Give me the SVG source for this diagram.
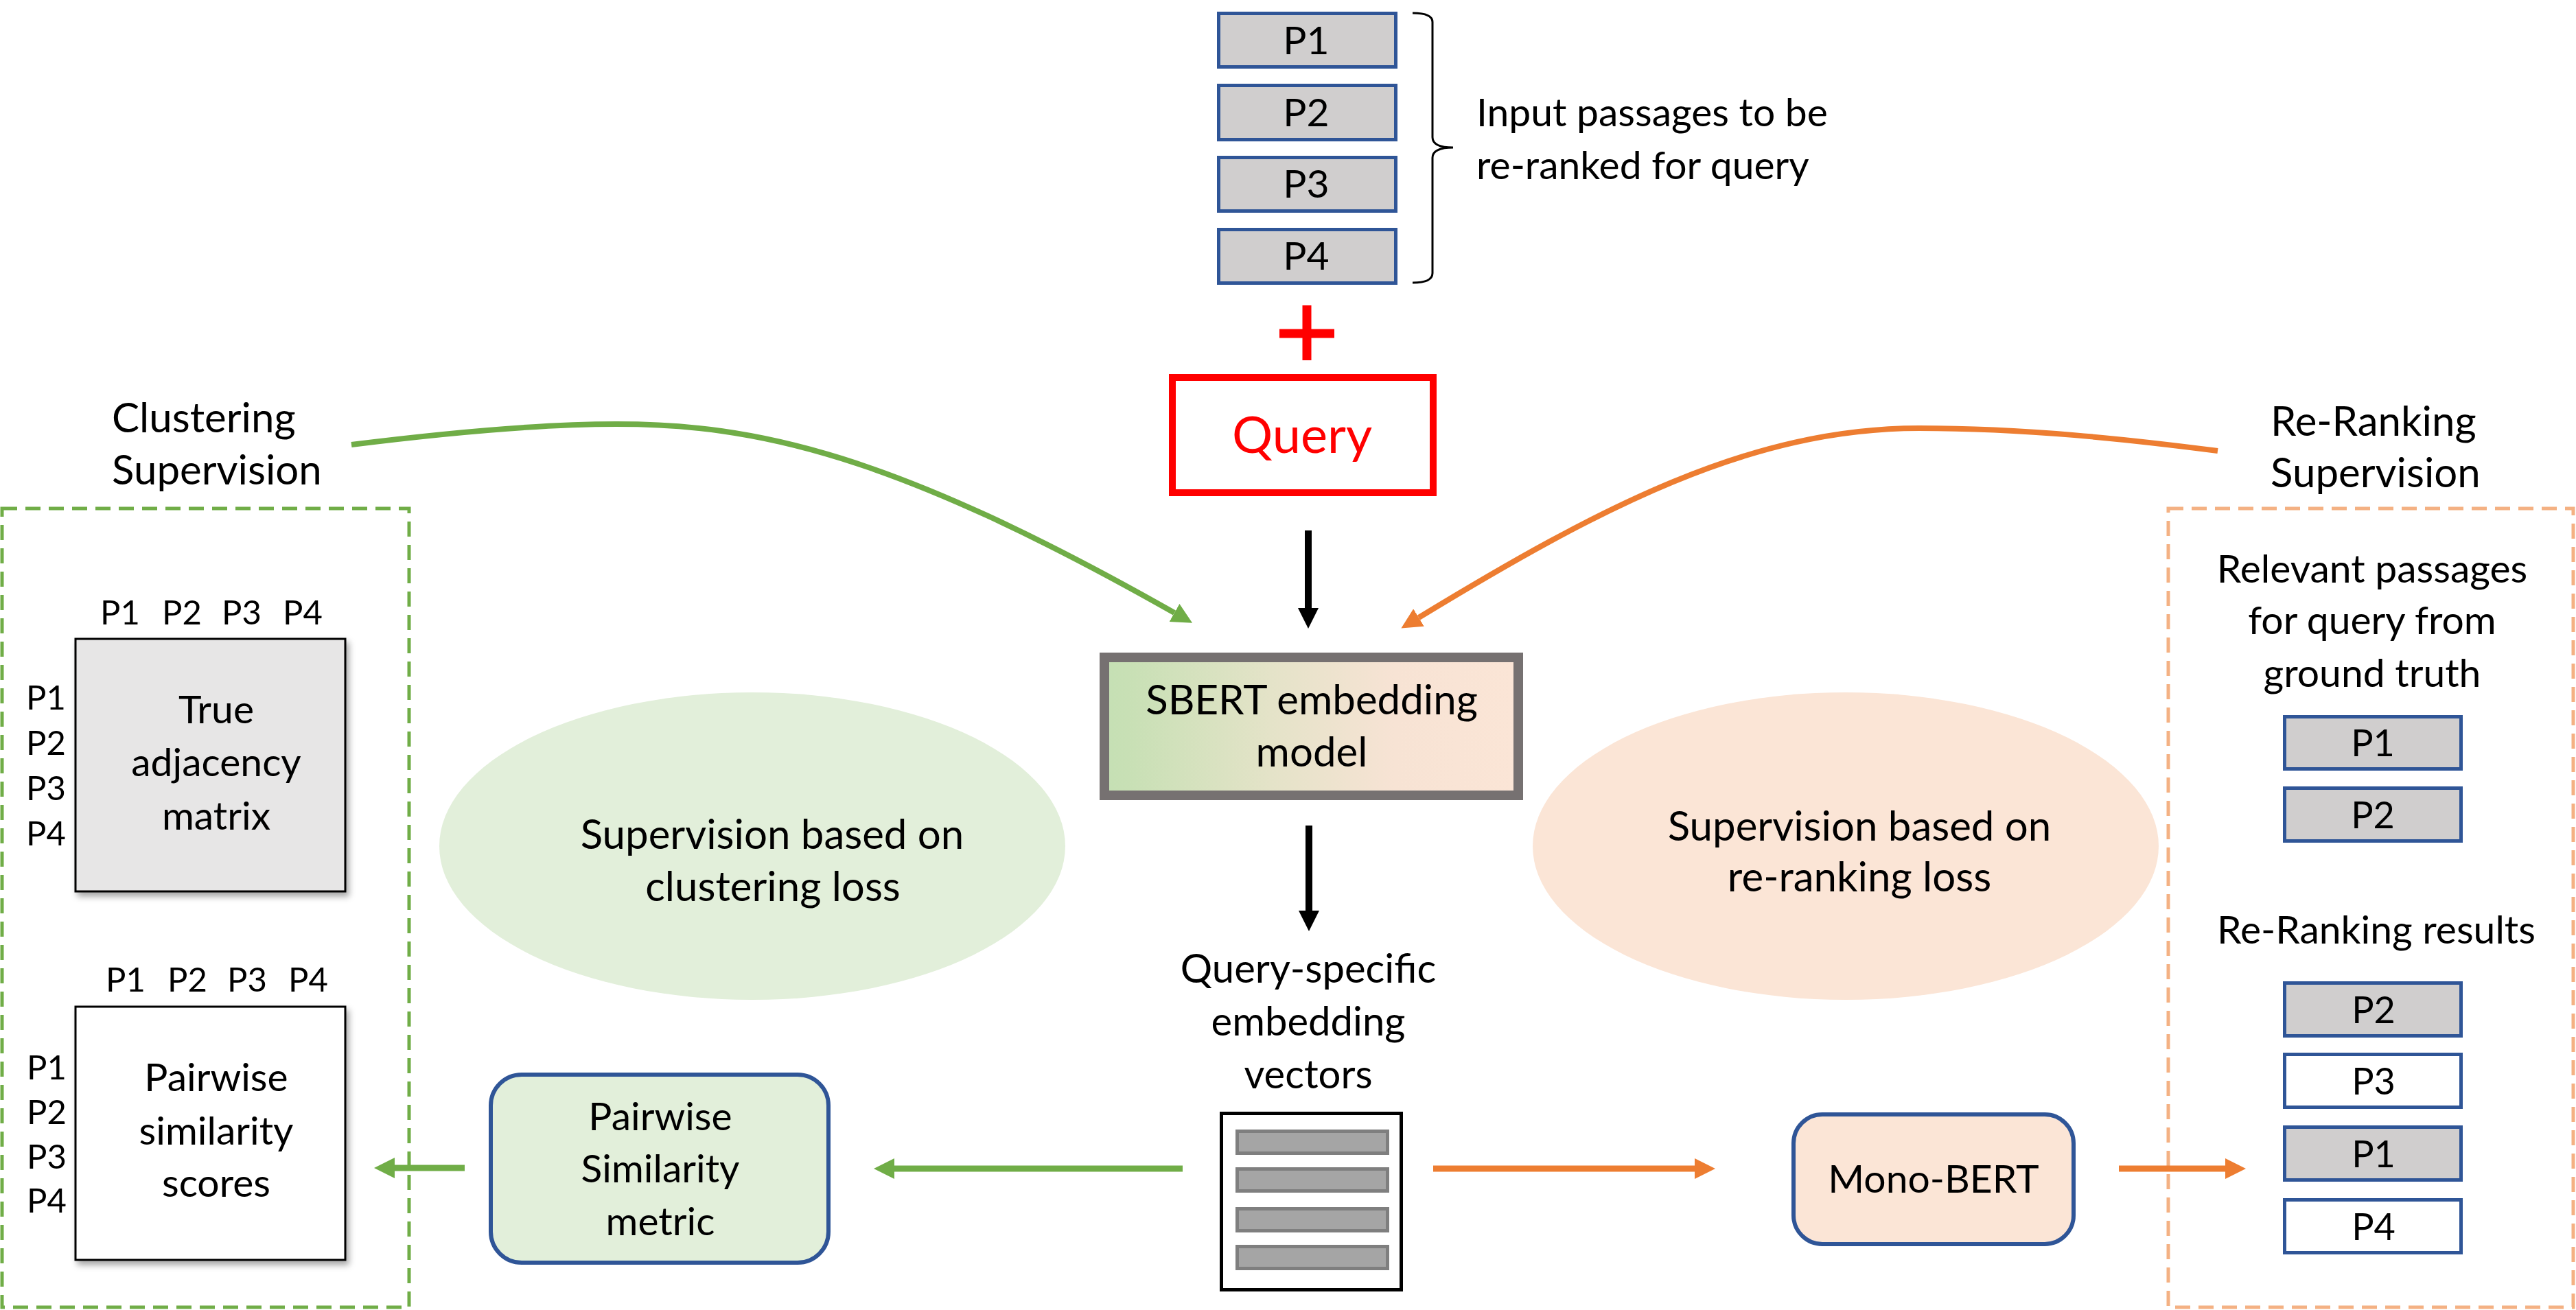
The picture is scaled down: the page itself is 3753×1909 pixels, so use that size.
<svg xmlns="http://www.w3.org/2000/svg" width="3753" height="1909" viewBox="0 0 3753 1909">
<defs>
<style>
text{font-family:Lato,"Liberation Sans",sans-serif;fill:#000}
.t{font-size:57px}
.m{text-anchor:middle}
.s{font-size:49px}
.r{font-size:54px}
.pg{fill:#D0CECE;stroke:#2F5597;stroke-width:5}
.pw{fill:#FFFFFF;stroke:#2F5597;stroke-width:5}
.g{stroke:#70AD47;stroke-width:8;fill:none}
.gs{stroke:#70AD47;stroke-width:9;fill:none}
.o{stroke:#ED7D31;stroke-width:8;fill:none}
.os{stroke:#ED7D31;stroke-width:9;fill:none}
.k{stroke:#000;stroke-width:10;fill:none}
.bar{fill:#A5A5A5;stroke:#7F7F7F;stroke-width:5}
</style>
<linearGradient id="sg" x1="0" y1="0" x2="1" y2="0">
<stop offset="0" stop-color="#C5E0B4"/>
<stop offset="0.06" stop-color="#C8E0B5"/>
<stop offset="0.4" stop-color="#E4E3C8"/>
<stop offset="0.7" stop-color="#F7E3D4"/>
<stop offset="1" stop-color="#FBE5D6"/>
</linearGradient>
<marker id="ag" markerUnits="userSpaceOnUse" markerWidth="32" markerHeight="32" refX="0" refY="15" orient="auto"><path d="M0,0 L30,15 L0,30 Z" fill="#70AD47"/></marker>
<marker id="ao" markerUnits="userSpaceOnUse" markerWidth="32" markerHeight="32" refX="0" refY="15" orient="auto"><path d="M0,0 L30,15 L0,30 Z" fill="#ED7D31"/></marker>
<marker id="ak" markerUnits="userSpaceOnUse" markerWidth="32" markerHeight="32" refX="0" refY="15" orient="auto"><path d="M0,0 L30,15 L0,30 Z" fill="#000"/></marker>
<filter id="sh" x="-10%" y="-10%" width="130%" height="130%"><feDropShadow dx="4" dy="6" stdDeviation="5" flood-color="#000" flood-opacity="0.35"/></filter>
</defs>
<rect x="0" y="0" width="3753" height="1909" fill="#FFFFFF"/>

<g id="supervision-regions">
<rect id="clustering-region" x="3" y="741" width="593" height="1164" fill="none" stroke="#70AD47" stroke-width="5" stroke-dasharray="22 12"/>
<rect id="reranking-region" x="3159" y="741" width="590" height="1164" fill="none" stroke="#F4B183" stroke-width="5" stroke-dasharray="22 12"/>
</g>

<g id="ellipse-clustering">
<ellipse cx="1096" cy="1233" rx="456" ry="224" fill="#E2EFDA"/>
<text class="m" font-size="60" x="1125" y="1237">Supervision based on</text>
<text class="m" font-size="60" x="1126" y="1313">clustering loss</text>
</g>
<g id="ellipse-reranking">
<ellipse cx="2689" cy="1233" rx="456" ry="224" fill="#FBE5D6"/>
<text class="m" font-size="60" x="2709" y="1225">Supervision based on</text>
<text class="m" font-size="60" x="2709" y="1299">re-ranking loss</text>
</g>

<g id="input-passages">
<rect class="pg" x="1775.5" y="19.5" width="258" height="78"/>
<rect class="pg" x="1775.5" y="124.5" width="258" height="79"/>
<rect class="pg" x="1775.5" y="229.5" width="258" height="78"/>
<rect class="pg" x="1775.5" y="334.5" width="258" height="78"/>
<text class="t m" x="1903" y="79">P1</text>
<text class="t m" x="1903" y="184">P2</text>
<text class="t m" x="1903" y="288">P3</text>
<text class="t m" x="1903" y="393">P4</text>
<path d="M2058,19 Q2087,19 2087,32 L2087,200 Q2087,215 2117,215 Q2087,215 2087,230 L2087,398 Q2087,412 2058,412" fill="none" stroke="#000" stroke-width="3"/>
<text class="t" x="2151" y="184">Input passages to be</text>
<text class="t" x="2151" y="261">re-ranked for query</text>
</g>

<g id="plus">
<path d="M1904,445 L1904,525 M1864,486 L1944,486" stroke="#FF0000" stroke-width="13" fill="none"/>
</g>

<g id="query">
<rect x="1708" y="550" width="380" height="168" fill="#FFFFFF" stroke="#FF0000" stroke-width="10"/>
<text class="m" font-size="74" x="1897" y="660" style="fill:#FF0000">Query</text>
</g>

<g id="sbert">
<rect x="1609" y="958" width="603" height="201" fill="url(#sg)" stroke="#767171" stroke-width="14"/>
<text class="m" font-size="60" x="1911" y="1041">SBERT embedding</text>
<text class="m" font-size="60" x="1911" y="1117">model</text>
</g>

<g id="embedding-vectors">
<text class="m" font-size="58" x="1906" y="1432">Query-specific</text>
<text class="m" font-size="58" x="1906" y="1509">embedding</text>
<text class="m" font-size="58" x="1906" y="1586">vectors</text>
<rect x="1779.5" y="1622.5" width="262" height="257" fill="#FFFFFF" stroke="#000" stroke-width="5"/>
<rect class="bar" x="1802.5" y="1648.5" width="219" height="32"/>
<rect class="bar" x="1802.5" y="1703.5" width="219" height="32"/>
<rect class="bar" x="1802.5" y="1761.5" width="219" height="32"/>
<rect class="bar" x="1802.5" y="1816.5" width="219" height="32"/>
</g>

<g id="pairwise-metric">
<rect x="715" y="1566" width="492" height="274" rx="45" ry="45" fill="#E2EFDA" stroke="#2F5597" stroke-width="6"/>
<text class="t m" x="962" y="1647">Pairwise</text>
<text class="t m" x="962" y="1723">Similarity</text>
<text class="t m" x="962" y="1800">metric</text>
</g>

<g id="mono-bert">
<rect x="2613" y="1624" width="408" height="189" rx="42" ry="42" fill="#FBE5D6" stroke="#2F5597" stroke-width="6"/>
<text class="t m" x="2817" y="1738">Mono-BERT</text>
</g>

<g id="clustering-label">
<text font-size="60" x="163" y="630">Clustering</text>
<text font-size="60" x="163" y="706">Supervision</text>
</g>

<g id="true-adjacency">
<text class="s m" x="175" y="910">P1</text>
<text class="s m" x="265" y="910">P2</text>
<text class="s m" x="352" y="910">P3</text>
<text class="s m" x="441" y="910">P4</text>
<text class="s" x="38" y="1034">P1</text>
<text class="s" x="38" y="1100">P2</text>
<text class="s" x="38" y="1166">P3</text>
<text class="s" x="38" y="1232">P4</text>
<rect x="110" y="931" width="393" height="368" fill="#E7E6E6" stroke="#000" stroke-width="3" filter="url(#sh)"/>
<text class="t m" x="315" y="1054">True</text>
<text class="t m" x="315" y="1131">adjacency</text>
<text class="t m" x="315" y="1209">matrix</text>
</g>

<g id="pairwise-scores">
<text class="s m" x="183" y="1445">P1</text>
<text class="s m" x="273" y="1445">P2</text>
<text class="s m" x="360" y="1445">P3</text>
<text class="s m" x="449" y="1445">P4</text>
<text class="s" x="39" y="1573">P1</text>
<text class="s" x="39" y="1638">P2</text>
<text class="s" x="39" y="1703">P3</text>
<text class="s" x="39" y="1767">P4</text>
<rect x="110" y="1467" width="393" height="369" fill="#FFFFFF" stroke="#000" stroke-width="3" filter="url(#sh)"/>
<text class="t m" x="315" y="1590">Pairwise</text>
<text class="t m" x="315" y="1668">similarity</text>
<text class="t m" x="315" y="1744">scores</text>
</g>

<g id="reranking-label">
<text font-size="60" x="3308" y="635">Re-Ranking</text>
<text font-size="60" x="3308" y="710">Supervision</text>
</g>

<g id="ground-truth">
<text class="t m" x="3456" y="849">Relevant passages</text>
<text class="t m" x="3456" y="924">for query from</text>
<text class="t m" x="3456" y="1001">ground truth</text>
<rect class="pg" x="3328.5" y="1044.5" width="257" height="76"/>
<rect class="pg" x="3328.5" y="1148.5" width="257" height="77"/>
<text class="r m" x="3457" y="1102">P1</text>
<text class="r m" x="3457" y="1207">P2</text>
</g>

<g id="reranking-results">
<text class="t m" x="3462" y="1375">Re-Ranking results</text>
<rect class="pg" x="3328.5" y="1432.5" width="257" height="77"/>
<rect class="pw" x="3328.5" y="1536.5" width="257" height="77"/>
<rect class="pg" x="3328.5" y="1642.5" width="257" height="77"/>
<rect class="pw" x="3328.5" y="1748.5" width="257" height="77"/>
<text class="r m" x="3458" y="1491">P2</text>
<text class="r m" x="3458" y="1595">P3</text>
<text class="r m" x="3458" y="1701">P1</text>
<text class="r m" x="3458" y="1807">P4</text>
</g>

<g id="connectors">
<path class="k" d="M1906,773 L1906,886" marker-end="url(#ak)"/>
<path class="k" d="M1907,1203 L1907,1327" marker-end="url(#ak)"/>
<path class="g" d="M512,648 C640,632 780,618 898,618 C1100,618 1300,660 1711,893" marker-end="url(#ag)"/>
<path class="o" d="M3231,657 C3100,640 2950,624 2796,624 C2550,624 2330,740 2067,900" marker-end="url(#ao)"/>
<path class="gs" d="M1723,1703 L1303,1703" marker-end="url(#ag)"/>
<path class="gs" d="M677,1702 L575,1702" marker-end="url(#ag)"/>
<path class="os" d="M2088,1703 L2469,1703" marker-end="url(#ao)"/>
<path class="os" d="M3087,1703 L3242,1703" marker-end="url(#ao)"/>
</g>
</svg>
